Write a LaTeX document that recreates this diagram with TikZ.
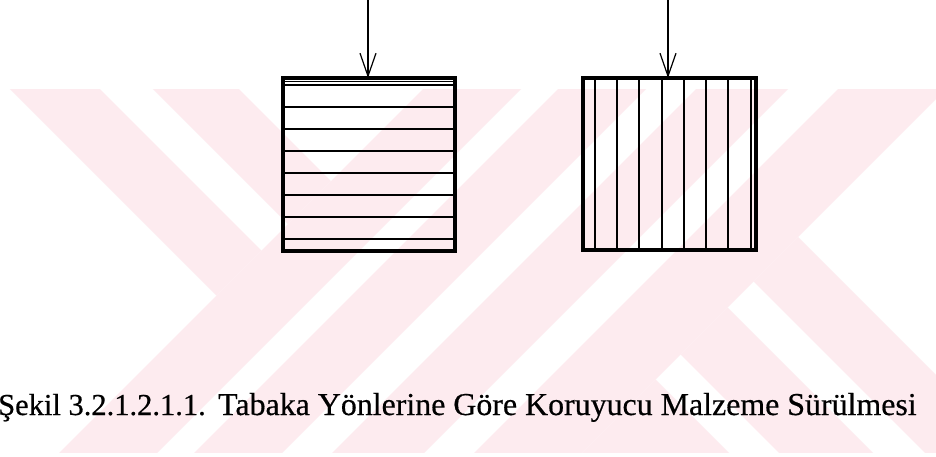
\documentclass[tikz,border=0pt]{standalone}
\usepackage{fontspec}
\setmainfont{Liberation Serif}
\newfontfamily\capfont[FakeBold=0.5]{Liberation Serif}
\usetikzlibrary{arrows.meta}
\definecolor{wm}{RGB}{253,235,239}
\begin{document}
\begin{tikzpicture}[x=1pt,y=-1pt,
  framebox/.style={draw=black, line width=3.2pt, inner sep=0pt, outer sep=0pt},
  layer/.style={draw=black, line width=1.5pt},
  feed/.style={draw=black, line width=1.1pt, -{Straight Barb[length=23pt,width=16pt,line width=1.2pt]}},
  captext/.style={anchor=base west, inner sep=0pt},
  wmfill/.style={fill=wm}]
\useasboundingbox (0,0) rectangle (936,456);
\fill[white] (0,0) rectangle (936,456);
% watermark
\begin{scope}
\clip (0,89) rectangle (936,452);
\begin{scope}[x={(0.5pt,0.5pt)}, y={(0.5pt,-0.5pt)}]
 % upper-left zone: stripes along d
 \fill[wmfill] (-79,-400) -- (11,-400) -- (11,512) -- (-79,512) -- cycle;
 \fill[wmfill] (64,-400) -- (150,-400) -- (150,512) -- (64,512) -- cycle;
 % middle zone: stripes along s
 \foreach \a/\b in {512/610, 647/735, 785/877, 927/1035}
   \fill[wmfill] (-1000,\a) -- (1500,\a) -- (1500,\b) -- (-1000,\b) -- cycle;
 % right zone
 \foreach \a/\b in {-600/276, 326/420, 472/561}
   \fill[wmfill] (\a,1035) -- (\b,1035) -- (\b,2500) -- (\a,2500) -- cycle;
\end{scope}
\end{scope}
% boxes
\node[framebox, minimum width=172pt, minimum height=173pt] (boxL) at (369,164.5) {};
\node[framebox, minimum width=173pt, minimum height=172pt] (boxR) at (669.5,164) {};
\draw[layer, line width=0.8pt] (boxL.west |- 0,81.5) -- (boxL.east |- 0,81.5);
\foreach \yy in {85,107,129,151,173,195,217,239}
  \draw[layer] (boxL.west |- 0,\yy) -- (boxL.east |- 0,\yy);
\foreach \xx in {595,617,639,662,684,706,728,751}
  \draw[layer] (\xx,0 |- boxR.north) -- (\xx,0 |- boxR.south);
\node[framebox, minimum width=172pt, minimum height=173pt] at (boxL.center) {};
\node[framebox, minimum width=173pt, minimum height=172pt] at (boxR.center) {};
% arrows
\coordinate (srcL) at (368,0);
\coordinate (srcR) at (668,0);
\draw[feed] (srcL) -- (srcL |- boxL.north);
\draw[feed] (srcR) -- (srcR |- boxR.north);
% caption
\node[captext] (capnum) at (-2,415)
  {\capfont\fontsize{30.5}{36}\selectfont Şekil 3.2.1.2.1.1.};
\node[captext] (captitle) at (218,415)
  {\capfont\fontsize{31.9}{37}\selectfont Tabaka Yönlerine Göre Koruyucu Malzeme Sürülmesi};
\end{tikzpicture}
\end{document}
